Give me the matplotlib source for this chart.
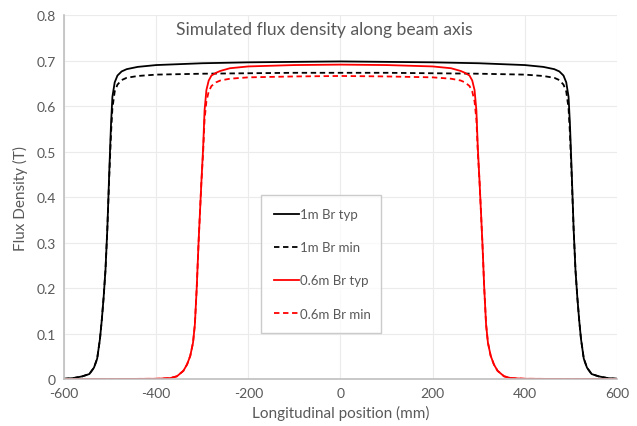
import matplotlib
matplotlib.use("Agg")
import matplotlib.pyplot as plt

plt.rcParams["font.family"] = ["Lato", "DejaVu Sans"]
plt.rcParams["axes.unicode_minus"] = False

TEXT = "#595959"

# 1 m magnet
x_1m = [-600, -580, -560, -545, -535, -528, -522, -518, -514, -510, -506, -502, -498, -495,
        -490, -484, -475, -464, -440, -400, -300, -200, -100, 0,
        100, 200, 300, 400, 440, 464, 475, 484, 490, 495, 498, 502, 506, 510, 514, 518,
        522, 528, 535, 545, 560, 580, 600]
b_1m_typ = [0.0005, 0.002, 0.006, 0.011, 0.025, 0.045, 0.088, 0.13, 0.18, 0.24, 0.33, 0.45, 0.56, 0.62,
            0.652, 0.667, 0.676, 0.681, 0.686, 0.690, 0.694, 0.696, 0.697, 0.698,
            0.697, 0.696, 0.694, 0.690, 0.686, 0.681, 0.676, 0.667, 0.652, 0.62, 0.56, 0.45, 0.33, 0.24, 0.18, 0.13,
            0.088, 0.045, 0.025, 0.011, 0.006, 0.002, 0.0005]
b_1m_min = [0.0005, 0.002, 0.006, 0.011, 0.025, 0.045, 0.088, 0.13, 0.18, 0.24, 0.33, 0.44, 0.54, 0.595,
            0.632, 0.647, 0.657, 0.662, 0.666, 0.669, 0.671, 0.672, 0.673, 0.673,
            0.673, 0.672, 0.671, 0.669, 0.666, 0.662, 0.657, 0.647, 0.632, 0.595, 0.54, 0.44, 0.33, 0.24, 0.18, 0.13,
            0.088, 0.045, 0.025, 0.011, 0.006, 0.002, 0.0005]

# 0.6 m magnet
x_06m = [-600, -500, -400, -370, -355, -341, -333, -326, -320, -316, -312, -308, -302, -298,
         -295, -291, -286, -280, -270, -261, -240, -200, -100, 0,
         100, 200, 240, 261, 270, 280, 286, 291, 295, 298, 302, 308, 312, 316, 320, 326,
         333, 341, 355, 370, 400, 500, 600]
b_06m_typ = [0, 0, 0.0005, 0.002, 0.006, 0.018, 0.032, 0.051, 0.08, 0.12, 0.2, 0.3, 0.43, 0.51,
             0.59, 0.635, 0.656, 0.667, 0.673, 0.677, 0.683, 0.687, 0.690, 0.691,
             0.690, 0.687, 0.683, 0.677, 0.673, 0.667, 0.656, 0.635, 0.59, 0.51, 0.43, 0.3, 0.2, 0.12, 0.08, 0.051,
             0.032, 0.018, 0.006, 0.002, 0.0005, 0, 0]
b_06m_min = [0, 0, 0.0005, 0.002, 0.006, 0.018, 0.032, 0.051, 0.08, 0.12, 0.2, 0.3, 0.43, 0.50,
             0.57, 0.61, 0.632, 0.644, 0.652, 0.656, 0.660, 0.663, 0.665, 0.666,
             0.665, 0.663, 0.660, 0.656, 0.652, 0.644, 0.632, 0.61, 0.57, 0.50, 0.43, 0.3, 0.2, 0.12, 0.08, 0.051,
             0.032, 0.018, 0.006, 0.002, 0.0005, 0, 0]

fig = plt.figure(figsize=(6.37, 4.27), dpi=100)
ax = fig.add_axes([0.1005, 0.110, 0.868, 0.8525])

dash = (0, (3, 2))
ax.plot(x_1m, b_1m_typ, color="black", lw=1.3, label="1m Br typ")
ax.plot(x_1m, b_1m_min, color="black", lw=1.3, ls=dash, label="1m Br min")
ax.plot(x_06m, b_06m_typ, color="#ff0000", lw=1.3, label="0.6m Br typ")
ax.plot(x_06m, b_06m_min, color="#ff0000", lw=1.3, ls=dash, label="0.6m Br min")

ax.set_xlim(-600, 600)
ax.set_ylim(0, 0.8)
ax.set_xticks(range(-600, 601, 200))
ax.set_yticks([0, 0.1, 0.2, 0.3, 0.4, 0.5, 0.6, 0.7, 0.8])
ax.set_yticklabels(["0", "0.1", "0.2", "0.3", "0.4", "0.5", "0.6", "0.7", "0.8"])
ax.grid(color="#ebebeb", lw=0.8)
ax.set_axisbelow(True)
for s in ["top", "right"]:
    ax.spines[s].set_visible(False)
for s in ["left", "bottom"]:
    ax.spines[s].set_color("#bfbfbf")
    ax.spines[s].set_linewidth(1.2)
ax.tick_params(length=0, labelsize=10, colors=TEXT, pad=6)
ax.set_xlabel("Longitudinal position (mm)", fontsize=11, color=TEXT, labelpad=4)
ax.set_ylabel("Flux Density (T)", fontsize=11, color=TEXT, labelpad=6)

leg = ax.legend(loc="lower left", bbox_to_anchor=(0.356, 0.127, 0.217, 0.37), mode="expand",
                fontsize=9.5, labelcolor=TEXT, fancybox=False, edgecolor="#bfbfbf",
                handlelength=1.9, handletextpad=0.1, labelspacing=1.6, borderpad=1.0,
                borderaxespad=0)
leg.get_frame().set_linewidth(1.0)

fig.text(324 / 637, 1 - 30 / 427, "Simulated flux density along beam axis", ha="center", va="center",
         fontsize=12.6, color=TEXT)

fig.savefig("out.png", dpi=100)
